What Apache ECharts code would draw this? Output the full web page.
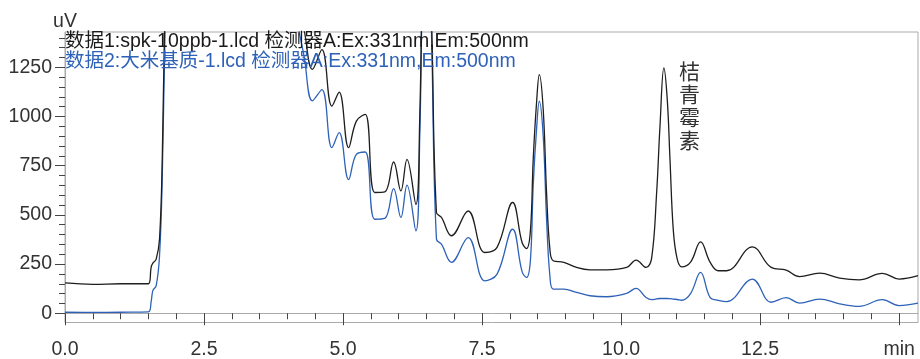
<!DOCTYPE html>
<html>
<head>
<meta charset="utf-8">
<script src="https://cdn.jsdelivr.net/npm/echarts@6/dist/echarts.min.js"></script>
<style>
  html, body { margin: 0; padding: 0; background: #fff; }
  #chart { width: 920px; height: 359px; }
</style>
</head>
<body>
<div id="chart"></div>
<script>
// 保留时间 (min)
const times = [
  0.0, 0.5, 1.0, 1.5, 1.55, 1.58, 1.64, 1.70, 1.75, 1.80, 1.90, 2.5, 3.5, 4.0, 4.2,
  4.30, 4.45, 4.62, 4.80, 4.93, 5.10, 5.24, 5.40, 5.57, 5.75, 5.91, 6.04, 6.15, 6.31,
  6.38, 6.45, 6.53, 6.60, 6.68, 6.77, 6.95, 7.25, 7.55, 7.77, 8.05, 8.22, 8.30, 8.37, 8.42, 8.48,
  8.53, 8.60, 8.66, 8.72, 8.78, 8.97, 9.20, 9.44, 9.74, 10.10, 10.27, 10.45, 10.55,
  10.64, 10.70, 10.77, 10.83, 10.88, 10.94, 11.01, 11.09, 11.25, 11.43, 11.60, 11.75, 11.90,
  12.36, 12.70, 12.97, 13.21, 13.57, 13.93, 14.28, 14.70, 15.00, 15.34
]
// 数据1 (黑)
const spkValues = [
  154, 147, 150, 150, 235, 255, 275, 377, 800, 1600, 2600, 3000, 2500, 1900, 1550,
  1440, 1240, 1340, 1053, 1124, 842, 977, 1011, 614, 617, 769, 622, 782, 554,
  1000, 2000, 2200, 1400, 512, 487, 394, 520, 309, 335, 563, 360, 329, 420, 782, 1070,
  1213, 1036, 614, 326, 267, 259, 233, 221, 221, 233, 270, 233, 280,
  614, 951, 1247, 1090, 782, 420, 275, 236, 260, 363, 260, 216, 216,
  338, 233, 219, 186, 204, 179, 170, 203, 174, 191
]
// 数据2 (蓝)
const riceValues = [
  5, 4, 5, 7, 60, 115, 140, 292, 700, 1450, 2500, 3000, 2400, 1800, 1450,
  1306, 1080, 1137, 842, 918, 680, 808, 820, 478, 482, 634, 487, 651, 419,
  900, 1900, 2100, 1300, 377, 351, 259, 385, 165, 199, 427, 212, 182, 270, 650, 935,
  1078, 900, 480, 190, 123, 123, 106, 89, 84, 101, 127, 80, 69,
  73, 75, 75, 75, 74, 72, 70, 66, 100, 208, 81, 66, 59,
  174, 56, 79, 52, 72, 48, 35, 69, 39, 51
]
const xMajorTicks = [0, 2.5, 5, 7.5, 10, 12.5, 15]
const yMajorTicks = [0, 250, 500, 750, 1000, 1250]
const spkName = '数据1:spk-10ppb-1.lcd 检测器A:Ex:331nm,Em:500nm'
const riceName = '数据2:大米基质-1.lcd 检测器A:Ex:331nm,Em:500nm'
const peakName = '桔青霉素'
const peakTime = 10.77
const peakValue = 1247

const xMinorTicks = []
for (let v = 0.5; v <= 15; v += 0.5) xMinorTicks.push(v)
const yMinorTicks = []
for (let v = 0; v <= 1400; v += 50) yMinorTicks.push(v)

const FONT = 'Liberation Sans, Arial, Noto Sans CJK SC, sans-serif'

function pairs(vals) {
    return times.map((t, i) => [t, vals[i]])
}

const chart = echarts.init(document.getElementById('chart'))
chart.setOption({
    animation: false,
    grid: {
        left: 65, right: 2, top: 32, bottom: 36,
        show: true, borderColor: '#aaa', borderWidth: 1
    },
    title: [
        { text: spkName, left: 65, top: 32, padding: 0,
          textStyle: { fontFamily: FONT, fontSize: 19.5, fontWeight: 'normal', color: '#1a1a1a' } },
        { text: riceName, left: 65, top: 52, padding: 0,
          textStyle: { fontFamily: FONT, fontSize: 19.5, fontWeight: 'normal', color: '#2e62b8' } }
    ],
    xAxis: [
        {
            type: 'value', min: 0, max: 15.34,
            axisLine: { lineStyle: { color: '#aaa' } },
            axisTick: { customValues: xMajorTicks, length: 12, lineStyle: { color: '#444' } },
            axisLabel: {
                customValues: xMajorTicks, margin: 17,
                fontFamily: FONT, fontSize: 19.5, color: '#333',
                formatter: v => v === 15 ? 'min' : v.toFixed(1)
            },
            splitLine: { show: false }
        },
        {
            type: 'value', min: 0, max: 15.34, position: 'bottom', offset: 0,
            axisLine: { show: false },
            axisTick: { customValues: xMinorTicks, length: 6, lineStyle: { color: '#444' } },
            axisLabel: { show: false },
            splitLine: { show: false }
        }
    ],
    yAxis: [
        {
            type: 'value', min: -47, max: 1430,
            name: 'uV', nameLocation: 'end', nameGap: 1,
            nameTextStyle: { fontFamily: FONT, fontSize: 19.5, color: '#333', align: 'center', verticalAlign: 'bottom' },
            axisLine: { show: true, lineStyle: { color: '#aaa' } },
            axisTick: { show: true, customValues: yMajorTicks, length: 10, lineStyle: { color: '#444' } },
            axisLabel: {
                customValues: yMajorTicks, margin: 13, fontFamily: FONT, fontSize: 19.5, color: '#333',
                formatter: v => String(v)
            },
            splitLine: { show: false }
        },
        {
            type: 'value', min: -47, max: 1430, position: 'left', offset: 0,
            axisLine: { show: false },
            axisTick: { show: true, customValues: yMinorTicks, length: 6, lineStyle: { color: '#444' } },
            axisLabel: { show: false },
            splitLine: { show: false }
        }
    ],
    series: [
        {
            name: riceName, type: 'line', data: pairs(riceValues),
            showSymbol: false, smooth: 0.4,
            lineStyle: { color: '#2e62b8', width: 1.3 }
        },
        {
            name: spkName, type: 'line', data: pairs(spkValues),
            showSymbol: false, smooth: 0.4,
            lineStyle: { color: '#1e1e1e', width: 1.3 },
            markPoint: {
                symbol: 'circle', symbolSize: 0,
                data: [{ coord: [peakTime, peakValue] }],
                label: {
                    show: true, position: 'right', distance: 15, offset: [0, 38],
                    formatter: peakName.split('').join('\n'),
                    fontFamily: 'Noto Sans CJK SC', fontSize: 21, lineHeight: 23, color: '#333'
                }
            }
        }
    ]
})
</script>
</body>
</html>
